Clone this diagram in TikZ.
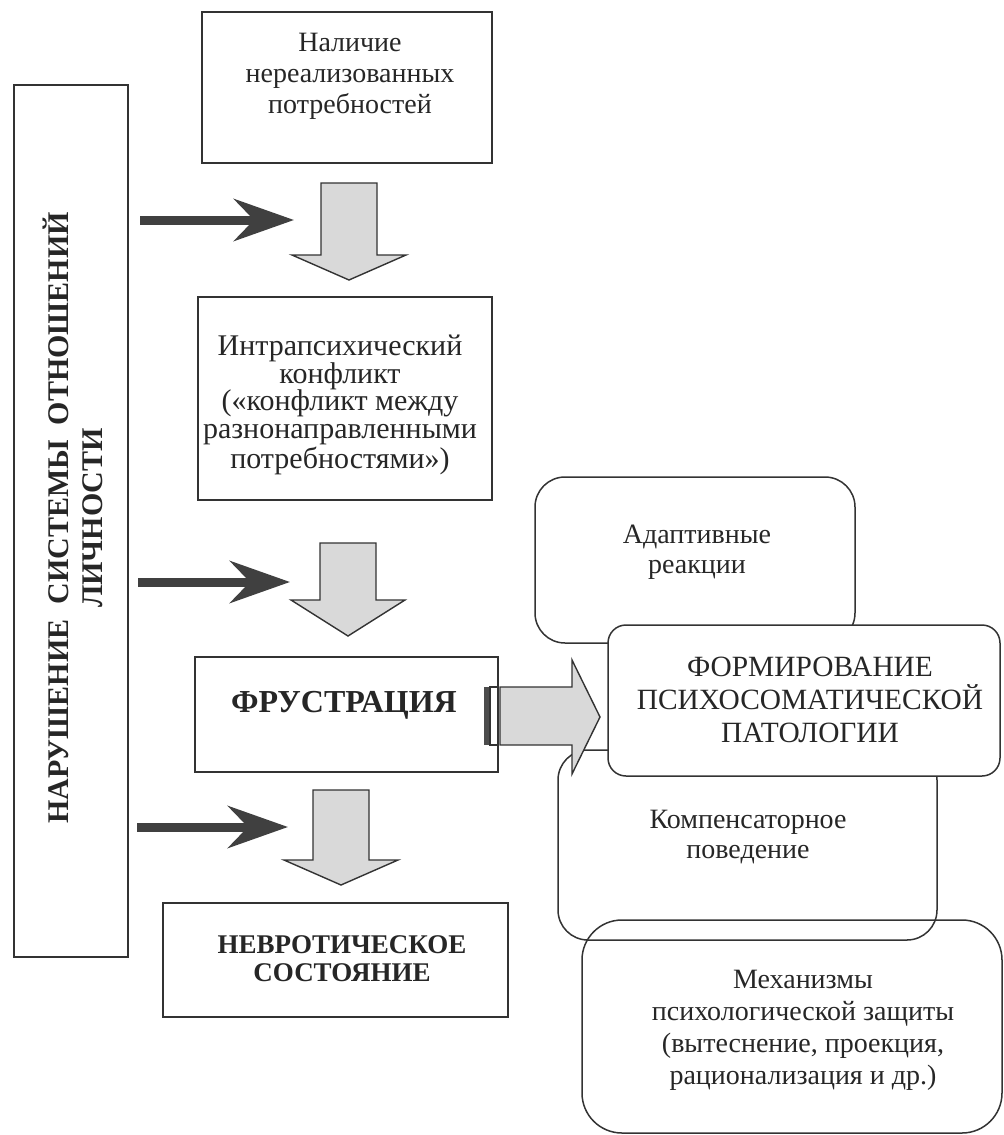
\documentclass[tikz,border=0pt]{standalone}
\usepackage{fontspec}
\setmainfont{Liberation Serif}
\usetikzlibrary{arrows.meta}
\begin{document}
\begin{tikzpicture}[x=0.5pt,y=-0.5pt,
  box/.style={draw=black!80, line width=0.8pt, inner sep=0pt},
  rbox/.style={box, line width=0.75pt},
  txt/.style={align=center, inner sep=0pt, text=black!85},
  darrow/.style={draw=black!75, line width=4.5pt, -{Stealth[length=30pt,width=21pt,inset=10pt]}},
  garrow/.style={draw=black!80, line width=0.7pt, fill=black!15}
]
\useasboundingbox (0,0) rectangle (1003,1135);
% left tall box
\node[box, minimum width=57pt, minimum height=436pt] (lb) at (71,521) {};
\node[txt, rotate=90, font=\bfseries\fontsize{15}{17}\selectfont] (lbt) at (73,518)
  {НАРУШЕНИЕ\ \ СИСТЕМЫ\ \ ОТНОШЕНИЙ\\ЛИЧНОСТИ};
% main column boxes
\node[box, minimum width=145pt, minimum height=75.5pt] (b1) at (347,87.5) {};
\node[txt, font=\fontsize{14}{15.5}\selectfont] (b1t) at (350,76) {Наличие\\нереализованных\\потребностей};
\node[box, minimum width=147pt, minimum height=101.5pt] (b2) at (345,398.5) {};
\node[txt, font=\fontsize{15}{13.8}\selectfont] (b2t) at (340,405) {Интрапсихический\\конфликт\\(«конфликт между\\разнонаправленными\\потребностями»)};
\node[box, minimum width=151.5pt, minimum height=57.5pt] (fr) at (346.5,714.5) {};
\node[txt, font=\bfseries\fontsize{16}{18}\selectfont] (frt) at (344,705) {ФРУСТРАЦИЯ};
\node[box, minimum width=172.5pt, minimum height=57pt] (nv) at (335.5,960) {};
\node[txt, font=\bfseries\fontsize{13.5}{14}\selectfont] (nvt) at (342,959) {НЕВРОТИЧЕСКОЕ\\СОСТОЯНИЕ};
% gray down arrows
\draw[garrow] (321,183) -- (377,183) -- (377,255) -- (406,255) -- (349,280) -- (292,255) -- (321,255) -- cycle;
\draw[garrow] (320,543) -- (376,543) -- (376,600) -- (405,600) -- (348,636) -- (291,600) -- (320,600) -- cycle;
\draw[garrow] (313,790) -- (369,790) -- (369,860) -- (398,860) -- (341,885) -- (284,860) -- (313,860) -- cycle;
% dark arrows from left box
\coordinate (d1s) at (140,220); \coordinate (d1e) at (294,220);
\coordinate (d2s) at (138,582); \coordinate (d2e) at (290,582);
\coordinate (d3s) at (137,827); \coordinate (d3e) at (288,827);
\draw[darrow] (d1s) -- (d1e);
\draw[darrow] (d2s) -- (d2e);
\draw[darrow] (d3s) -- (d3e);
% right rounded boxes
\node[rbox, rounded corners=15pt, minimum width=160pt, minimum height=83pt] (ad) at (695,560) {};
\node[txt, font=\fontsize{14}{15}\selectfont] (adt) at (697,552) {Адаптивные\\реакции};
\node[rbox, rounded corners=15pt, minimum width=189.5pt, minimum height=95pt] (ko) at (747.5,845) {};
\node[txt, font=\fontsize{14}{15}\selectfont] (kot) at (748,837) {Компенсаторное\\поведение};
\node[rbox, rounded corners=20pt, minimum width=210pt, minimum height=106.5pt] (me) at (792,1026.5) {};
\node[txt, font=\fontsize{14}{16}\selectfont] (met) at (803,1030) {Механизмы\\психологической защиты\\(вытеснение, проекция,\\рационализация и др.)};
\node[rbox, fill=white, rounded corners=9pt, minimum width=196pt, minimum height=75.5pt] (fo) at (804,700.5) {};
\node[txt, font=\fontsize{14.7}{16.5}\selectfont] (fot) at (810,700) {ФОРМИРОВАНИЕ\\ПСИХОСОМАТИЧЕСКОЙ\\ПАТОЛОГИИ};
% side arrow from frustration to formation
\fill[black!70] (484,687) rectangle (490,745);
\draw[black!80, line width=0.6pt, fill=white] (490,687) rectangle (498,745);
\draw[garrow] (500,687) -- (572,687) -- (572,660) -- (600,717) -- (572,774) -- (572,745) -- (500,745) -- cycle;
\end{tikzpicture}
\end{document}
